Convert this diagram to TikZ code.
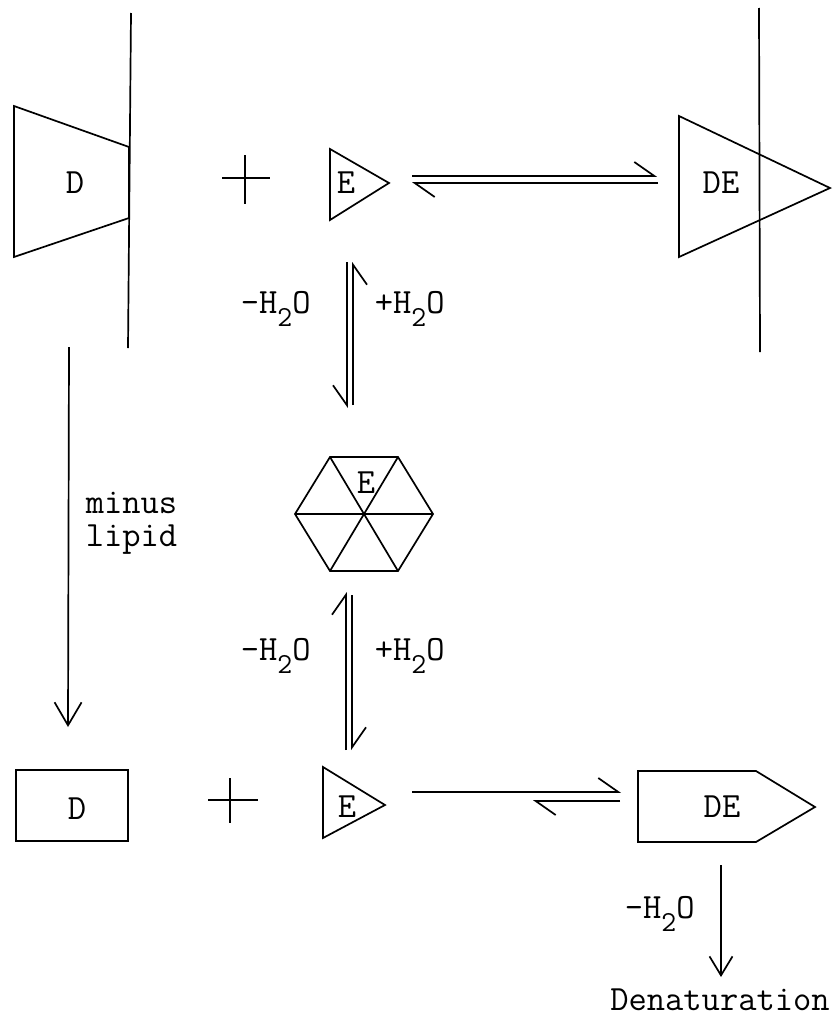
\documentclass[tikz,border=0pt]{standalone}
\usepackage{fontspec}
\usetikzlibrary{arrows.meta}
\newcommand\tw{\ttfamily\fontsize{35.5}{40}\selectfont}
\newcommand\water{H\raisebox{-13pt}{\fontsize{29}{30}\selectfont 2}O}
\begin{document}
\begin{tikzpicture}[x=1pt,y=-1pt,line width=1.7pt,line join=miter,
  lbl/.style={font=\tw,inner sep=0pt,anchor=base},
  lblw/.style={font=\tw,inner sep=0pt,anchor=base west},
  harpL/.style={-{Straight Barb[left,length=20pt,width=28pt]}},
  harpR/.style={-{Straight Barb[right,length=20pt,width=28pt]}},
  downA/.style={-{Straight Barb[length=23pt,width=27pt]}},
  downB/.style={-{Straight Barb[length=19pt,width=23pt]}}]
\useasboundingbox (0,0) rectangle (838,1017);

% ---- top row ----
\draw (131,13) -- (128,348);
\draw (14,106) -- (129,147) -- (129,218) -- (14,257) -- cycle;
\draw (222,178) -- (270,178) (245,155) -- (245,204);
\draw (330,149) -- (389,183) -- (330,220) -- cycle;
\draw (679,116) -- (830,188) -- (679,257) -- cycle;
\draw (759,8) -- (760,352);

\node[lbl] (dT) at (75,193) {D};
\node[lbl] (eT) at (346,193) {E};
\node[lbl] (deT) at (721,193) {DE};

\coordinate (a1) at (412,176); \coordinate (a2) at (657,176);
\coordinate (a3) at (658,183); \coordinate (a4) at (412,183);
\draw[harpL] (a1) -- (a2);
\draw[harpL] (a3) -- (a4);

% ---- top vertical equilibrium ----
\coordinate (b1) at (353,405); \coordinate (b2) at (353,262);
\coordinate (b3) at (347,262); \coordinate (b4) at (347,408);
\draw[harpR] (b1) -- (b2);
\draw[harpR] (b3) -- (b4);
\node[lblw] (w1) at (240,313) {-\water};
\node[lblw] (w2) at (374,313) {+\water};

% ---- hexagon ----
\draw (295,514) -- (330,457) -- (398,457) -- (433,514) -- (398,571) -- (330,571) -- cycle;
\draw (295,514) -- (433,514) (330,457) -- (398,571) (398,457) -- (330,571);
\node[lbl] (eH) at (366,493) {E};

% ---- lower vertical equilibrium ----
\coordinate (c1) at (346,750); \coordinate (c2) at (346,592);
\coordinate (c3) at (352,595); \coordinate (c4) at (352,750);
\draw[harpL] (c1) -- (c2);
\draw[harpL] (c3) -- (c4);
\node[lblw] (w3) at (240,660) {-\water};
\node[lblw] (w4) at (374,660) {+\water};

% ---- minus lipid ----
\coordinate (m1) at (69,347); \coordinate (m2) at (68,727);
\draw[downA] (m1) -- (m2);
\node[lblw] (minus) at (85,513) {minus};
\node[lblw] (lipid) at (85,546) {lipid};

% ---- bottom row ----
\draw (16,770) rectangle (128,841);
\node[lbl] (dB) at (77,819) {D};
\draw (208,800) -- (258,800) (230,778) -- (230,823);
\draw (323,767) -- (385,805) -- (323,838) -- cycle;
\node[lbl] (eB) at (347,817) {E};
\draw (638,771) -- (756,771) -- (815,807) -- (756,842) -- (638,842) -- cycle;
\node[lbl] (deB) at (722,817) {DE};

\coordinate (d1) at (412,792); \coordinate (d2) at (621,792);
\coordinate (d3) at (620,801); \coordinate (d4) at (533,801);
\draw[harpL] (d1) -- (d2);
\draw[harpL] (d3) -- (d4);

% ---- denaturation ----
\coordinate (n1) at (721,865); \coordinate (n2) at (721,977);
\draw[downB] (n1) -- (n2);
\node[lblw] (w5) at (624,918) {-\water};
\node[lbl] (den) at (720,1010) {Denaturation};
\end{tikzpicture}
\end{document}
